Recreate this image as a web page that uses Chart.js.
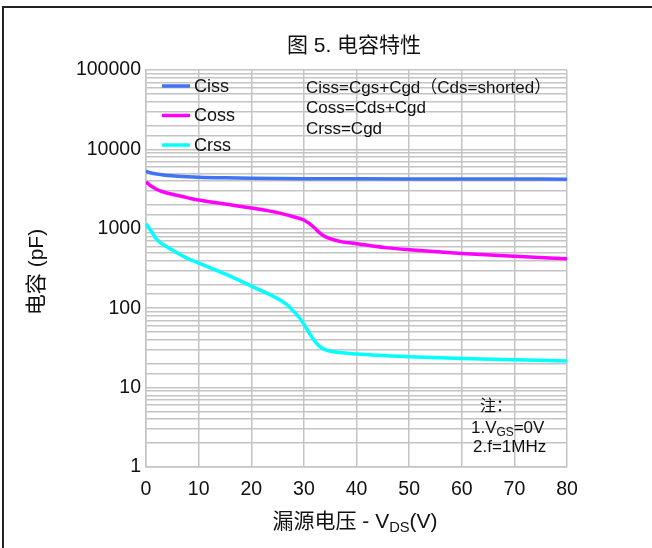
<!DOCTYPE html>
<html>
<head>
<meta charset="utf-8">
<script src="https://cdn.jsdelivr.net/npm/chart.js@4"></script>
<style>
  html, body { margin: 0; padding: 0; background: #fff; }
  #wrap { position: relative; width: 652px; height: 548px; }
  #frame { position: absolute; left: 2px; top: 6px; right: 0; bottom: 0;
           border-left: 2px solid #222; border-top: 2px solid #222; pointer-events: none; }
</style>
</head>
<body>
<div id="wrap">
  <canvas id="c" width="652" height="548"></canvas>
  <div id="frame"></div>
</div>
<script>
// Vds (V) sample points, capacitance in pF
const cissX = [0, 1, 2, 3, 5, 8, 10, 15, 20, 25, 30, 35, 40, 50, 60, 70, 80];
const cissY = [5300, 5050, 4900, 4800, 4650, 4520, 4460, 4380, 4330, 4300, 4280, 4270, 4260, 4250, 4240, 4230, 4220];

const cossX = [0, 1, 2, 3, 5, 8, 10, 15, 20, 25, 28, 30, 31, 32, 33, 34, 35, 37, 40, 46, 50, 60, 70, 80];
const cossY = [3900, 3450, 3150, 2950, 2720, 2450, 2300, 2050, 1830, 1600, 1420, 1290, 1170, 1030, 890, 800, 750, 690, 650, 575, 545, 490, 450, 420];

const crssX = [0, 1, 2, 3, 5, 8, 10, 15, 20, 25, 27, 28, 29, 30, 31, 32, 33, 34, 36, 40, 50, 60, 70, 80];
const crssY = [1160, 930, 740, 650, 540, 420, 370, 270, 190, 132, 108, 92, 78, 63, 49, 39, 33, 30, 28, 26.5, 24.5, 23.3, 22.4, 21.6];

const xTicks = [0, 10, 20, 30, 40, 50, 60, 70, 80];
const yTickLabels = [1, 10, 100, 1000, 10000, 100000];

const legendNames = ["Ciss", "Coss", "Crss"];
const colors = ["#4173f2", "#ff00ff", "#00ffff"];

const noteLines = ["Ciss=Cgs+Cgd（Cds=shorted）", "Coss=Cds+Cgd", "Crss=Cgd"];

const LATIN = '"Liberation Sans", Arial, "Noto Sans CJK SC", sans-serif';

function pts(xs, ys) {
  return xs.map((x, i) => ({ x, y: ys[i] }));
}

// draw text pieces, some of them as subscripts
function drawRich(ctx, parts, x, y, size, align) {
  let total = 0;
  parts.forEach(p => {
    ctx.font = (p.sub ? size * 0.7 : size) + "px " + LATIN;
    p.w = ctx.measureText(p.t).width;
    total += p.w;
  });
  let cx = align === "center" ? x - total / 2 : x;
  ctx.textAlign = "left";
  ctx.textBaseline = "middle";
  parts.forEach(p => {
    ctx.font = (p.sub ? size * 0.7 : size) + "px " + LATIN;
    ctx.fillText(p.t, cx, p.sub ? y + size * 0.28 : y);
    cx += p.w;
  });
}

const textPlugin = {
  id: "texts",
  afterDraw(chart) {
    const ctx = chart.ctx;
    ctx.save();
    ctx.fillStyle = "#111";

    // title
    drawRich(ctx, [{ t: "图 5. 电容特性" }], 354, 46, 21, "center");

    // y title
    ctx.save();
    ctx.translate(37, 272);
    ctx.rotate(-Math.PI / 2);
    drawRich(ctx, [{ t: "电容 (pF)" }], 0, 0, 21, "center");
    ctx.restore();

    // x title
    drawRich(ctx, [
      { t: "漏源电压 - V" },
      { t: "DS", sub: true },
      { t: "(V)" }
    ], 355, 522, 21, "center");

    // legend
    ctx.lineWidth = 3.5;
    legendNames.forEach((name, i) => {
      const y = 86 + i * 29.5;
      ctx.strokeStyle = colors[i];
      ctx.beginPath();
      ctx.moveTo(162, y);
      ctx.lineTo(190, y);
      ctx.stroke();
      drawRich(ctx, [{ t: name }], 194, y + 1, 18, "left");
    });

    // formulas
    noteLines.forEach((t, i) => {
      drawRich(ctx, [{ t }], 306, 88 + i * 20.5, 17, "left");
    });

    // conditions
    drawRich(ctx, [{ t: "注：" }], 496, 407, 16, "center");
    drawRich(ctx, [{ t: "1.V" }, { t: "GS", sub: true }, { t: "=0V" }], 471, 428, 17, "left");
    drawRich(ctx, [{ t: "2.f=1MHz" }], 473, 447, 17, "left");

    ctx.restore();
  }
};

const bgPlugin = {
  id: "bg",
  beforeDraw(chart) {
    const ctx = chart.ctx;
    ctx.save();
    ctx.fillStyle = "#fff";
    ctx.fillRect(0, 0, chart.width, chart.height);
    ctx.restore();
  }
};

function line(label, data, color) {
  return {
    label,
    data,
    borderColor: color,
    backgroundColor: color,
    borderWidth: 3.5,
    pointRadius: 0,
    cubicInterpolationMode: "monotone",
    fill: false
  };
}

new Chart(document.getElementById("c").getContext("2d"), {
  type: "line",
  data: {
    datasets: [
      line("Ciss", pts(cissX, cissY), colors[0]),
      line("Coss", pts(cossX, cossY), colors[1]),
      line("Crss", pts(crssX, crssY), colors[2])
    ]
  },
  options: {
    responsive: false,
    animation: false,
    devicePixelRatio: 1,
    layout: { padding: { left: 0, top: 70, right: 85, bottom: 0 } },
    plugins: {
      legend: { display: false },
      title: { display: false },
      tooltip: { enabled: false }
    },
    scales: {
      x: {
        type: "linear",
        min: 0,
        max: 80,
        afterFit: (s) => { s.height = 81; },
        afterBuildTicks: (s) => { s.ticks = xTicks.map(v => ({ value: v })); },
        ticks: {
          color: "#111",
          font: { family: LATIN, size: 19.5 },
          padding: 11,
          maxRotation: 0
        },
        grid: { color: "#c4c4c4", lineWidth: 1.5, drawTicks: false },
        border: { color: "#c4c4c4", width: 1.5 }
      },
      y: {
        type: "logarithmic",
        min: 1,
        max: 100000,
        afterFit: (s) => { s.width = 146; },
        ticks: {
          autoSkip: false,
          color: "#111",
          font: { family: LATIN, size: 19.5 },
          padding: 5,
          callback: (v) => yTickLabels.includes(v) ? String(v) : ""
        },
        grid: { color: "#c4c4c4", lineWidth: 1.5, drawTicks: false },
        border: { color: "#c4c4c4", width: 1.5 }
      }
    }
  },
  plugins: [bgPlugin, textPlugin]
});
</script>
</body>
</html>
